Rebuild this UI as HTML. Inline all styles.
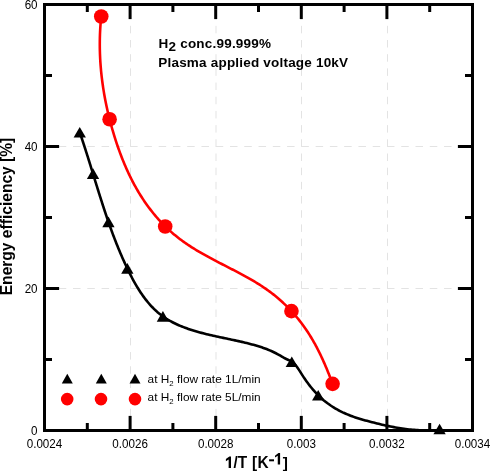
<!DOCTYPE html>
<html><head><meta charset="utf-8"><style>
html,body{margin:0;padding:0;background:#fff;width:490px;height:471px;overflow:hidden}
svg{will-change:transform}
</style></head><body>
<svg width="490" height="471" viewBox="0 0 490 471" style="position:absolute;left:0;top:0"><defs><clipPath id="pa"><rect x="44.5" y="4.5" width="428.0" height="426.0"/></clipPath></defs><g stroke="#e3e3e3" stroke-width="1"><line x1="130.5" y1="430.5" x2="130.5" y2="4.5" stroke-dasharray="7.5 6.685"/><line x1="216.0" y1="430.5" x2="216.0" y2="4.5" stroke-dasharray="7.5 6.685"/><line x1="301.5" y1="430.5" x2="301.5" y2="4.5" stroke-dasharray="7.5 6.685"/><line x1="387.5" y1="430.5" x2="387.5" y2="4.5" stroke-dasharray="7.5 6.685"/><line x1="44.5" y1="288.5" x2="472.5" y2="288.5" stroke-dasharray="7.5 6.77"/><line x1="44.5" y1="146.5" x2="472.5" y2="146.5" stroke-dasharray="7.5 6.77"/></g><g stroke="#000" stroke-width="3"><line x1="44.50" y1="430.5" x2="44.50" y2="415.9"/><line x1="44.50" y1="4.5" x2="44.50" y2="19.1"/><line x1="87.30" y1="430.5" x2="87.30" y2="423.0"/><line x1="87.30" y1="4.5" x2="87.30" y2="12.0"/><line x1="130.10" y1="430.5" x2="130.10" y2="415.9"/><line x1="130.10" y1="4.5" x2="130.10" y2="19.1"/><line x1="172.90" y1="430.5" x2="172.90" y2="423.0"/><line x1="172.90" y1="4.5" x2="172.90" y2="12.0"/><line x1="215.70" y1="430.5" x2="215.70" y2="415.9"/><line x1="215.70" y1="4.5" x2="215.70" y2="19.1"/><line x1="258.50" y1="430.5" x2="258.50" y2="423.0"/><line x1="258.50" y1="4.5" x2="258.50" y2="12.0"/><line x1="301.30" y1="430.5" x2="301.30" y2="415.9"/><line x1="301.30" y1="4.5" x2="301.30" y2="19.1"/><line x1="344.10" y1="430.5" x2="344.10" y2="423.0"/><line x1="344.10" y1="4.5" x2="344.10" y2="12.0"/><line x1="386.90" y1="430.5" x2="386.90" y2="415.9"/><line x1="386.90" y1="4.5" x2="386.90" y2="19.1"/><line x1="429.70" y1="430.5" x2="429.70" y2="423.0"/><line x1="429.70" y1="4.5" x2="429.70" y2="12.0"/><line x1="472.50" y1="430.5" x2="472.50" y2="415.9"/><line x1="472.50" y1="4.5" x2="472.50" y2="19.1"/><line x1="44.5" y1="430.50" x2="59.1" y2="430.50"/><line x1="472.5" y1="430.50" x2="457.9" y2="430.50"/><line x1="44.5" y1="359.50" x2="52.0" y2="359.50"/><line x1="472.5" y1="359.50" x2="465.0" y2="359.50"/><line x1="44.5" y1="288.50" x2="59.1" y2="288.50"/><line x1="472.5" y1="288.50" x2="457.9" y2="288.50"/><line x1="44.5" y1="217.50" x2="52.0" y2="217.50"/><line x1="472.5" y1="217.50" x2="465.0" y2="217.50"/><line x1="44.5" y1="146.50" x2="59.1" y2="146.50"/><line x1="472.5" y1="146.50" x2="457.9" y2="146.50"/><line x1="44.5" y1="75.50" x2="52.0" y2="75.50"/><line x1="472.5" y1="75.50" x2="465.0" y2="75.50"/><line x1="44.5" y1="4.50" x2="59.1" y2="4.50"/><line x1="472.5" y1="4.50" x2="457.9" y2="4.50"/></g><g clip-path="url(#pa)" fill="none" stroke-width="2.6" stroke-linejoin="round"><path d="M79.73,132.31 L80.28,133.91 L80.83,135.52 L81.37,137.13 L81.91,138.74 L82.45,140.36 L82.99,141.98 L83.52,143.61 L84.05,145.23 L84.58,146.87 L85.11,148.50 L85.64,150.14 L86.16,151.78 L86.68,153.42 L87.20,155.06 L87.72,156.71 L88.24,158.36 L88.76,160.01 L89.27,161.66 L89.79,163.31 L90.30,164.96 L90.81,166.62 L91.32,168.27 L91.83,169.93 L92.35,171.58 L92.86,173.24 L93.37,174.89 L93.87,176.55 L94.38,178.20 L94.89,179.85 L95.40,181.51 L95.91,183.16 L96.42,184.81 L96.93,186.45 L97.44,188.10 L97.96,189.75 L98.47,191.39 L98.98,193.03 L99.50,194.67 L100.01,196.31 L100.53,197.95 L101.05,199.59 L101.57,201.22 L102.09,202.85 L102.62,204.48 L103.15,206.11 L103.68,207.74 L104.21,209.37 L104.75,210.99 L105.28,212.62 L105.83,214.24 L106.37,215.86 L106.92,217.48 L107.47,219.10 L108.03,220.71 L108.59,222.33 L109.15,223.94 L109.72,225.55 L110.29,227.16 L110.87,228.77 L111.45,230.37 L112.04,231.98 L112.63,233.58 L113.23,235.18 L113.84,236.78 L114.44,238.38 L115.06,239.97 L115.68,241.57 L116.31,243.16 L116.94,244.75 L117.58,246.34 L118.22,247.93 L118.88,249.51 L119.54,251.10 L120.20,252.68 L120.88,254.26 L121.56,255.84 L122.25,257.42 L122.94,259.00 L123.65,260.57 L124.36,262.14 L125.08,263.71 L125.81,265.28 L126.55,266.85 L127.29,268.42 L128.05,269.98 L128.81,271.54 L129.59,273.10 L130.37,274.65 L131.17,276.20 L131.97,277.74 L132.79,279.28 L133.62,280.81 L134.47,282.33 L135.32,283.84 L136.19,285.34 L137.08,286.83 L137.98,288.30 L138.89,289.77 L139.82,291.22 L140.77,292.66 L141.73,294.08 L142.71,295.48 L143.71,296.87 L144.72,298.24 L145.76,299.59 L146.81,300.92 L147.88,302.24 L148.97,303.53 L150.09,304.80 L151.22,306.04 L152.38,307.26 L153.55,308.46 L154.75,309.63 L155.98,310.78 L157.22,311.90 L158.49,312.99 L159.79,314.05 L161.11,315.08 L162.45,316.08 L163.82,317.06 L165.22,317.99 L166.63,318.90 L168.08,319.78 L169.54,320.64 L171.02,321.46 L172.53,322.26 L174.05,323.03 L175.59,323.77 L177.14,324.49 L178.71,325.19 L180.29,325.86 L181.89,326.51 L183.49,327.14 L185.11,327.75 L186.73,328.34 L188.36,328.91 L190.00,329.46 L191.64,329.99 L193.29,330.51 L194.94,331.01 L196.59,331.50 L198.25,331.97 L199.90,332.43 L201.56,332.87 L203.22,333.31 L204.88,333.73 L206.54,334.14 L208.20,334.55 L209.87,334.94 L211.54,335.33 L213.20,335.71 L214.87,336.08 L216.54,336.45 L218.22,336.82 L219.89,337.18 L221.57,337.53 L223.24,337.89 L224.92,338.24 L226.60,338.60 L228.28,338.95 L229.96,339.30 L231.65,339.66 L233.33,340.02 L235.02,340.38 L236.71,340.75 L238.40,341.12 L240.08,341.50 L241.77,341.88 L243.46,342.28 L245.14,342.68 L246.82,343.09 L248.50,343.51 L250.18,343.94 L251.85,344.39 L253.51,344.84 L255.17,345.31 L256.82,345.80 L258.47,346.30 L260.10,346.81 L261.73,347.35 L263.35,347.90 L264.96,348.48 L266.56,349.08 L268.15,349.71 L269.73,350.35 L271.29,351.03 L272.84,351.73 L274.38,352.47 L275.90,353.23 L277.41,354.03 L278.90,354.86 L280.38,355.72 L281.85,356.59 L283.32,357.45 L284.81,358.27 L286.32,359.03 L287.84,359.73 L289.35,360.43 L290.81,361.19 L292.19,362.06 L293.47,363.07 L294.67,364.21 L295.79,365.45 L296.85,366.78 L297.86,368.19 L298.83,369.64 L299.79,371.13 L300.73,372.64 L301.68,374.15 L302.63,375.64 L303.60,377.11 L304.58,378.57 L305.58,380.01 L306.59,381.44 L307.61,382.85 L308.65,384.24 L309.71,385.61 L310.78,386.96 L311.87,388.29 L312.98,389.60 L314.11,390.89 L315.25,392.16 L316.42,393.41 L317.60,394.64 L318.81,395.84 L320.04,397.02 L321.29,398.17 L322.57,399.30 L323.86,400.40 L325.19,401.48 L326.54,402.53 L327.91,403.56 L329.30,404.55 L330.71,405.53 L332.15,406.47 L333.60,407.39 L335.07,408.28 L336.56,409.14 L338.06,409.98 L339.58,410.78 L341.11,411.56 L342.66,412.32 L344.22,413.04 L345.79,413.74 L347.37,414.41 L348.96,415.05 L350.56,415.67 L352.17,416.27 L353.79,416.85 L355.41,417.41 L357.05,417.95 L358.69,418.47 L360.33,418.98 L361.98,419.47 L363.64,419.95 L365.30,420.41 L366.96,420.87 L368.63,421.31 L370.30,421.75 L371.97,422.18 L373.65,422.60 L375.32,423.02 L376.99,423.43 L378.67,423.84 L380.34,424.24 L382.02,424.64 L383.69,425.02 L385.37,425.40 L387.05,425.78 L388.73,426.14 L390.42,426.49 L392.10,426.83 L393.79,427.15 L395.48,427.47 L397.17,427.77 L398.86,428.05 L400.56,428.32 L402.26,428.57 L403.96,428.81 L405.67,429.03 L407.38,429.23 L409.09,429.42 L410.80,429.60 L412.51,429.76 L414.23,429.91 L415.95,430.05 L417.67,430.17 L419.39,430.29 L421.11,430.39 L422.83,430.47 L424.55,430.55 L426.27,430.62 L427.99,430.67 L429.71,430.72 L431.44,430.75 L433.16,430.78 L434.88,430.80 L436.59,430.80 L438.31,430.80 L439.60,430.80" stroke="#000"/><path d="M101.24,16.50 L101.08,18.04 L100.93,19.58 L100.79,21.13 L100.66,22.67 L100.54,24.22 L100.43,25.76 L100.32,27.31 L100.23,28.85 L100.15,30.40 L100.07,31.95 L100.00,33.49 L99.95,35.04 L99.90,36.58 L99.86,38.13 L99.83,39.67 L99.81,41.22 L99.80,42.77 L99.79,44.31 L99.80,45.85 L99.81,47.40 L99.83,48.94 L99.87,50.49 L99.91,52.03 L99.95,53.57 L100.01,55.12 L100.08,56.66 L100.15,58.20 L100.23,59.74 L100.32,61.28 L100.42,62.82 L100.53,64.36 L100.65,65.90 L100.77,67.43 L100.90,68.97 L101.04,70.51 L101.19,72.04 L101.35,73.58 L101.51,75.11 L101.68,76.64 L101.86,78.17 L102.05,79.70 L102.24,81.23 L102.45,82.76 L102.66,84.29 L102.88,85.81 L103.10,87.34 L103.34,88.86 L103.58,90.38 L103.83,91.90 L104.08,93.42 L104.35,94.94 L104.62,96.46 L104.89,97.97 L105.18,99.49 L105.47,101.00 L105.77,102.51 L106.08,104.02 L106.39,105.53 L106.71,107.04 L107.04,108.54 L107.38,110.05 L107.72,111.55 L108.07,113.05 L108.43,114.55 L108.79,116.05 L109.16,117.55 L109.54,119.04 L109.92,120.54 L110.31,122.03 L110.71,123.53 L111.12,125.02 L111.53,126.51 L111.95,128.00 L112.37,129.49 L112.81,130.98 L113.25,132.46 L113.69,133.95 L114.14,135.43 L114.60,136.91 L115.07,138.40 L115.54,139.88 L116.02,141.36 L116.51,142.83 L117.00,144.31 L117.51,145.78 L118.01,147.25 L118.53,148.72 L119.05,150.19 L119.58,151.65 L120.12,153.11 L120.67,154.57 L121.22,156.02 L121.79,157.48 L122.36,158.93 L122.93,160.37 L123.52,161.81 L124.12,163.25 L124.72,164.68 L125.33,166.11 L125.95,167.54 L126.58,168.96 L127.22,170.38 L127.86,171.79 L128.52,173.20 L129.18,174.60 L129.86,176.00 L130.54,177.39 L131.23,178.78 L131.93,180.16 L132.64,181.54 L133.36,182.91 L134.09,184.27 L134.83,185.63 L135.58,186.98 L136.34,188.33 L137.11,189.67 L137.89,191.00 L138.68,192.33 L139.48,193.65 L140.29,194.96 L141.11,196.27 L141.94,197.56 L142.78,198.85 L143.63,200.14 L144.49,201.41 L145.37,202.68 L146.25,203.94 L147.14,205.19 L148.05,206.43 L148.96,207.66 L149.89,208.89 L150.82,210.11 L151.77,211.31 L152.72,212.51 L153.69,213.70 L154.67,214.88 L155.65,216.05 L156.65,217.22 L157.66,218.37 L158.68,219.51 L159.71,220.64 L160.75,221.76 L161.80,222.87 L162.86,223.98 L163.93,225.07 L165.01,226.15 L166.11,227.22 L167.21,228.27 L168.32,229.32 L169.44,230.36 L170.58,231.38 L171.72,232.40 L172.88,233.40 L174.04,234.39 L175.22,235.37 L176.41,236.33 L177.60,237.29 L178.81,238.23 L180.03,239.16 L181.26,240.08 L182.49,240.98 L183.74,241.88 L185.00,242.76 L186.26,243.64 L187.53,244.50 L188.82,245.36 L190.11,246.20 L191.40,247.04 L192.71,247.87 L194.02,248.68 L195.34,249.49 L196.66,250.30 L197.99,251.09 L199.33,251.88 L200.67,252.66 L202.02,253.44 L203.37,254.20 L204.73,254.97 L206.10,255.72 L207.46,256.47 L208.83,257.22 L210.21,257.96 L211.59,258.70 L212.97,259.43 L214.35,260.16 L215.74,260.89 L217.13,261.61 L218.52,262.34 L219.91,263.05 L221.30,263.77 L222.70,264.49 L224.09,265.20 L225.49,265.92 L226.88,266.63 L228.28,267.35 L229.67,268.06 L231.06,268.78 L232.46,269.50 L233.85,270.22 L235.23,270.94 L236.62,271.66 L238.01,272.39 L239.39,273.12 L240.77,273.85 L242.14,274.59 L243.51,275.33 L244.88,276.08 L246.24,276.83 L247.60,277.58 L248.95,278.34 L250.30,279.11 L251.64,279.89 L252.98,280.67 L254.31,281.46 L255.64,282.25 L256.95,283.06 L258.26,283.87 L259.57,284.69 L260.86,285.52 L262.15,286.36 L263.43,287.21 L264.70,288.07 L265.96,288.94 L267.21,289.82 L268.46,290.71 L269.69,291.61 L270.91,292.53 L272.13,293.45 L273.33,294.39 L274.52,295.34 L275.71,296.30 L276.88,297.27 L278.04,298.25 L279.19,299.25 L280.34,300.25 L281.47,301.27 L282.59,302.30 L283.70,303.33 L284.81,304.38 L285.90,305.44 L286.98,306.51 L288.05,307.59 L289.11,308.68 L290.16,309.78 L291.20,310.89 L292.23,312.01 L293.25,313.15 L294.25,314.29 L295.25,315.44 L296.24,316.60 L297.21,317.77 L298.18,318.95 L299.13,320.14 L300.07,321.34 L301.01,322.55 L301.93,323.77 L302.84,325.00 L303.74,326.23 L304.63,327.48 L305.51,328.74 L306.37,330.00 L307.23,331.28 L308.07,332.56 L308.91,333.85 L309.73,335.15 L310.54,336.46 L311.34,337.78 L312.13,339.10 L312.91,340.44 L313.68,341.78 L314.43,343.13 L315.18,344.48 L315.92,345.85 L316.65,347.21 L317.37,348.59 L318.08,349.97 L318.78,351.36 L319.47,352.75 L320.15,354.15 L320.82,355.55 L321.49,356.96 L322.14,358.37 L322.79,359.78 L323.43,361.20 L324.06,362.62 L324.69,364.05 L325.31,365.48 L325.92,366.91 L326.52,368.35 L327.11,369.78 L327.70,371.22 L328.28,372.67 L328.86,374.11 L329.43,375.55 L329.99,377.00 L330.55,378.44 L331.10,379.89 L331.64,381.33 L332.18,382.78 L332.58,383.86" stroke="#f00"/></g><rect x="44.5" y="4.5" width="428.0" height="426.0" fill="none" stroke="#000" stroke-width="3"/><g fill="#000"><path d="M73.60,137.60L85.90,137.60L79.75,127.00Z"/><path d="M86.90,178.90L99.20,178.90L93.05,168.30Z"/><path d="M102.30,227.20L114.60,227.20L108.45,216.60Z"/><path d="M121.20,273.65L133.50,273.65L127.35,263.05Z"/><path d="M156.75,321.65L169.05,321.65L162.90,311.05Z"/><path d="M285.65,367.05L297.95,367.05L291.80,356.45Z"/><path d="M312.05,400.50L324.35,400.50L318.20,389.90Z"/><path d="M433.45,434.30L445.75,434.30L439.60,423.70Z"/></g><g fill="#f00"><circle cx="101.25" cy="16.5" r="7.3"/><circle cx="109.6" cy="119.25" r="7.3"/><circle cx="165.2" cy="226.5" r="7.3"/><circle cx="291.45" cy="311.1" r="7.3"/><circle cx="332.6" cy="383.85" r="7.3"/></g><g fill="#000"><path d="M61.80,383.60L72.80,383.60L67.30,373.80Z"/><path d="M95.80,383.60L106.80,383.60L101.30,373.80Z"/><path d="M129.50,383.60L140.50,383.60L135.00,373.80Z"/></g><g fill="#f00"><circle cx="67.2" cy="399.1" r="6.3"/><circle cx="101.0" cy="399.1" r="6.3"/><circle cx="135.0" cy="399.1" r="6.3"/></g><g font-family='"Liberation Sans", sans-serif' font-size="11.3" fill="#000"><text transform="translate(44.50,448.00) scale(1.03,1.1)" text-anchor="middle" >0.0024</text><text transform="translate(130.10,448.00) scale(1.03,1.1)" text-anchor="middle" >0.0026</text><text transform="translate(215.70,448.00) scale(1.03,1.1)" text-anchor="middle" >0.0028</text><text transform="translate(301.30,448.00) scale(1.03,1.1)" text-anchor="middle" >0.003</text><text transform="translate(386.90,448.00) scale(1.03,1.1)" text-anchor="middle" >0.0032</text><text transform="translate(472.50,448.00) scale(1.03,1.1)" text-anchor="middle" >0.0034</text><text transform="translate(37.60,434.60) scale(1.03,1.1)" text-anchor="end" >0</text><text transform="translate(37.60,292.60) scale(1.03,1.1)" text-anchor="end" >20</text><text transform="translate(37.60,150.60) scale(1.03,1.1)" text-anchor="end" >40</text><text transform="translate(37.60,8.60) scale(1.03,1.1)" text-anchor="end" >60</text></g><g font-family='"Liberation Sans", sans-serif' font-size="11.4" fill="#000"><text transform="translate(147.60,383.10) scale(1.04,1.0)" text-anchor="start" >at H<tspan font-size="7.5" dy="2.8">2</tspan><tspan dy="-2.8"> flow rate 1L/min</tspan></text><text transform="translate(147.60,401.40) scale(1.04,1.0)" text-anchor="start" >at H<tspan font-size="7.5" dy="2.8">2</tspan><tspan dy="-2.8"> flow rate 5L/min</tspan></text></g><g font-family='"Liberation Sans", sans-serif' font-size="13.5" font-weight="bold" fill="#000" letter-spacing="0.2"><text x="158.6" y="48">H<tspan dy="3.2">2</tspan><tspan dy="-3.2"> conc.99.999%</tspan></text><text x="158.3" y="67">Plasma applied voltage 10kV</text></g><g font-family='"Liberation Sans", sans-serif' font-size="15.4" font-weight="bold" fill="#000"><g transform="translate(0,468.1) scale(1,1.12) translate(0,-468.1)"><text x="233.46" y="468.1">/T</text><text x="252.0" y="468.1">[</text><text x="257.6" y="468.1">K</text></g><text x="282.8" y="468.1">]</text><path d="M231.00,456.60L231.00,467.90L228.65,467.90L228.65,459.45L225.90,461.20L225.90,459.10L229.35,456.60Z"/><path d="M280.10,453.00L280.10,464.60L277.75,464.60L277.75,455.85L275.00,457.60L275.00,455.80L278.45,453.00Z"/><rect x="269.1" y="459.3" width="4.9" height="2.0"/></g><text font-family='"Liberation Sans", sans-serif' font-size="15.6" font-weight="bold" fill="#000" transform="translate(11.8,216.5) rotate(-90) scale(1,1.1)" text-anchor="middle">Energy efficiency [%]</text></svg>
</body></html>
